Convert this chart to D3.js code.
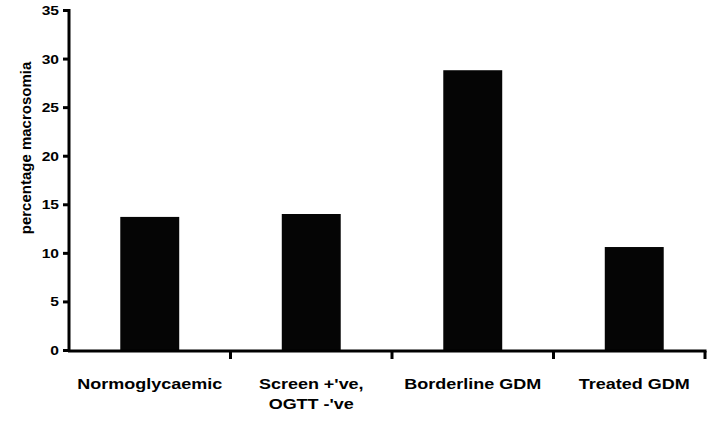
<!DOCTYPE html>
<html lang="en">
<head>
  <meta charset="UTF-8">
  <title>percentage macrosomia</title>
  <script src="https://d3js.org/d3.v7.min.js"></script>
  <style>
    body { margin: 0; background: #fff; }
    svg { display: block; }
    text { font-family: "Liberation Sans", Arial, sans-serif; font-weight: bold; fill: #000; }
  </style>
</head>
<body>
<svg id="chart" width="720" height="430"></svg>
<script>
const categories = ["Normoglycaemic", "Screen +'ve,\nOGTT -'ve", "Borderline GDM", "Treated GDM"];
const values = [13.7, 14.0, 28.8, 10.6];
const yTicks = [0, 5, 10, 15, 20, 25, 30, 35];

const svg = d3.select("#chart");
const mLeft = 69, mRight = 705, mTop = 10, mBottom = 350;
const stretch = 1.2; // glyphs in the original are a bit wide

// the last band runs a little past the end of the drawn axis
const x = d3.scaleBand()
  .domain(categories)
  .range([mLeft, 715])
  .paddingInner(0.635)
  .paddingOuter(0.3175);

const y = d3.scaleLinear().domain([0, 35]).range([mBottom, mTop]);

// bars
svg.append("g")
  .selectAll("rect")
  .data(values)
  .join("rect")
  .attr("x", (d, i) => x(categories[i]))
  .attr("y", d => y(d))
  .attr("width", x.bandwidth())
  .attr("height", d => y(0) - y(d))
  .attr("fill", "#050505");

// y axis
const yAxis = svg.append("g")
  .attr("transform", `translate(${mLeft},0)`)
  .call(d3.axisLeft(y).tickValues(yTicks).tickSize(6).tickPadding(0));
yAxis.select(".domain").attr("stroke", "#000").attr("stroke-width", 3)
  .attr("d", `M0,${mTop - 1}V${mBottom + 1}`);
yAxis.selectAll(".tick line").attr("stroke", "#000").attr("stroke-width", 3);
yAxis.selectAll(".tick text")
  .attr("x", -10 / stretch)
  .attr("dy", "0.35em")
  .attr("transform", `scale(${stretch},1)`)
  .style("font-size", "13px");

// x axis: ticks on the category boundaries, plus one at the axis end
const step = x.step();
const bounds = categories.slice(0, -1)
  .map(c => x(c) + x.bandwidth() + x.paddingInner() * step / 2)
  .concat([mRight]);
const xg = svg.append("g");
xg.append("line")
  .attr("x1", mLeft - 1).attr("x2", mRight + 1.5)
  .attr("y1", mBottom + 1).attr("y2", mBottom + 1)
  .attr("stroke", "#000").attr("stroke-width", 3);
xg.selectAll("line.tk")
  .data(bounds)
  .join("line")
  .attr("class", "tk")
  .attr("x1", d => d).attr("x2", d => d)
  .attr("y1", mBottom + 1).attr("y2", mBottom + 9)
  .attr("stroke", "#000").attr("stroke-width", 3);

// category labels
categories.forEach(c => {
  const cx = x(c) + x.bandwidth() / 2;
  const t = svg.append("text")
    .attr("text-anchor", "middle")
    .attr("transform", `translate(${cx},389) scale(${stretch},1)`)
    .style("font-size", "15px");
  c.split("\n").forEach((line, i) => {
    t.append("tspan").attr("x", 0).attr("dy", i === 0 ? 0 : 20).text(line);
  });
});

// y title
svg.append("text")
  .attr("transform", `translate(31,${(63 + 233) / 2}) rotate(-90)`)
  .attr("text-anchor", "middle")
  .style("font-size", "15px")
  .text("percentage macrosomia");
</script>
</body>
</html>
